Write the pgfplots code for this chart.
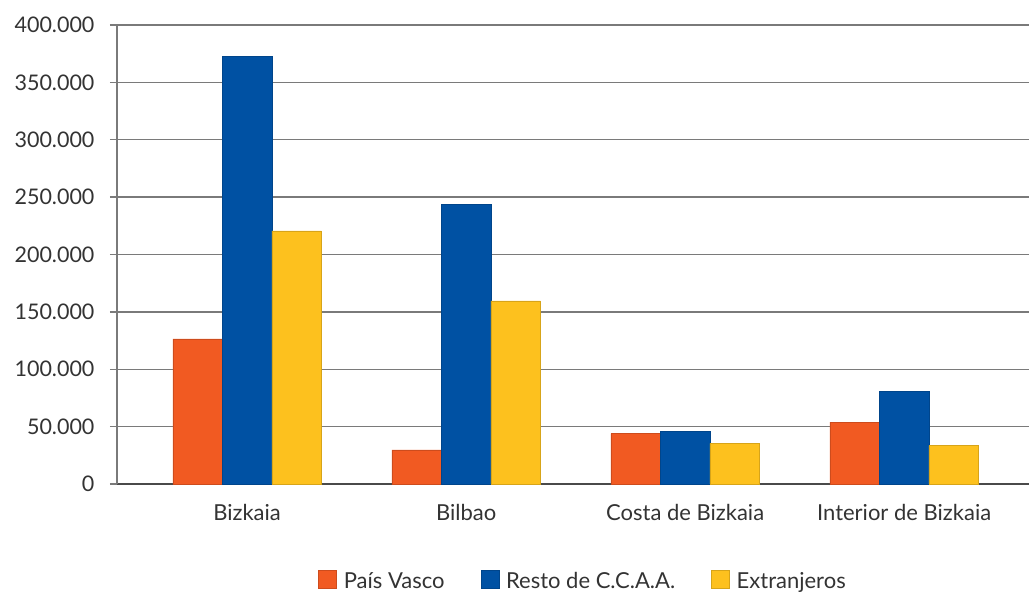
\documentclass[border=0pt]{standalone}
\usepackage{fontspec}
\setmainfont{Lato}
\usepackage{pgfplots}
\pgfplotsset{compat=1.18}
\definecolor{cA}{HTML}{F15A22}
\definecolor{cB}{HTML}{0051A3}
\definecolor{cC}{HTML}{FDC11E}
\definecolor{gridc}{HTML}{7A7A7A}
\definecolor{axc}{HTML}{4A4A4A}
\definecolor{txt}{HTML}{333333}
\begin{document}
\begin{tikzpicture}
\useasboundingbox (0,0) rectangle (1029pt,592pt);
\begin{axis}[
  at={(117pt,108pt)}, anchor=south west, scale only axis,
  width=912pt, height=459pt,
  xmin=-0.594, xmax=3.570, ymin=0, ymax=400000,
  ybar=0pt, bar width=49.5pt,
  xtick={0,1,2,3},
  xticklabels={Bizkaia,Bilbao,Costa de Bizkaia,Interior de Bizkaia},
  ytick={0,50000,...,400000},
  scaled y ticks=false,
  yticklabel style={xshift=-12pt, /pgf/number format/.cd, fixed, 1000 sep={.}, assume math mode=true},
  axis y line=left, axis x line=bottom,
  y axis line style={-, draw=gridc, line width=2.2pt},
  x axis line style={-, draw=axc, line width=2pt},
  xtick style={draw=none},
  ytick style={draw=gridc, line width=1.5pt},
  tick align=outside, major tick length=7pt,
  ymajorgrids, grid style={draw=gridc, line width=1.5pt},
  tick label style={font=\fontsize{21.5}{24}\selectfont, text=txt},
  xticklabel style={yshift=-10pt, font=\fontsize{22}{25}\selectfont},
  legend style={at={(0.511,-0.211)}, anchor=center, draw=none, fill=none,
    legend columns=3, font=\fontsize{22}{25}\selectfont, text=txt,
    /tikz/every odd column/.append style={column sep=5pt},
    /tikz/every even column/.append style={column sep=34pt}},
  every axis plot/.append style={legend image code/.code={\fill[##1] (0pt,-7pt) rectangle (18pt,11pt);}},
]
\addplot[fill=cA, draw=cA!85!black, line width=0.5pt] coordinates {(0,126500) (1,29800) (2,43800) (3,54000)};
\addplot[fill=cB, draw=cB!85!black, line width=0.5pt] coordinates {(0,372500) (1,243500) (2,46000) (3,80800)};
\addplot[fill=cC, draw=cC!85!black, line width=0.5pt] coordinates {(0,220500) (1,159500) (2,35500) (3,33500)};
\legend{País Vasco, Resto de C.C.A.A., Extranjeros}
\end{axis}
\end{tikzpicture}
\end{document}
